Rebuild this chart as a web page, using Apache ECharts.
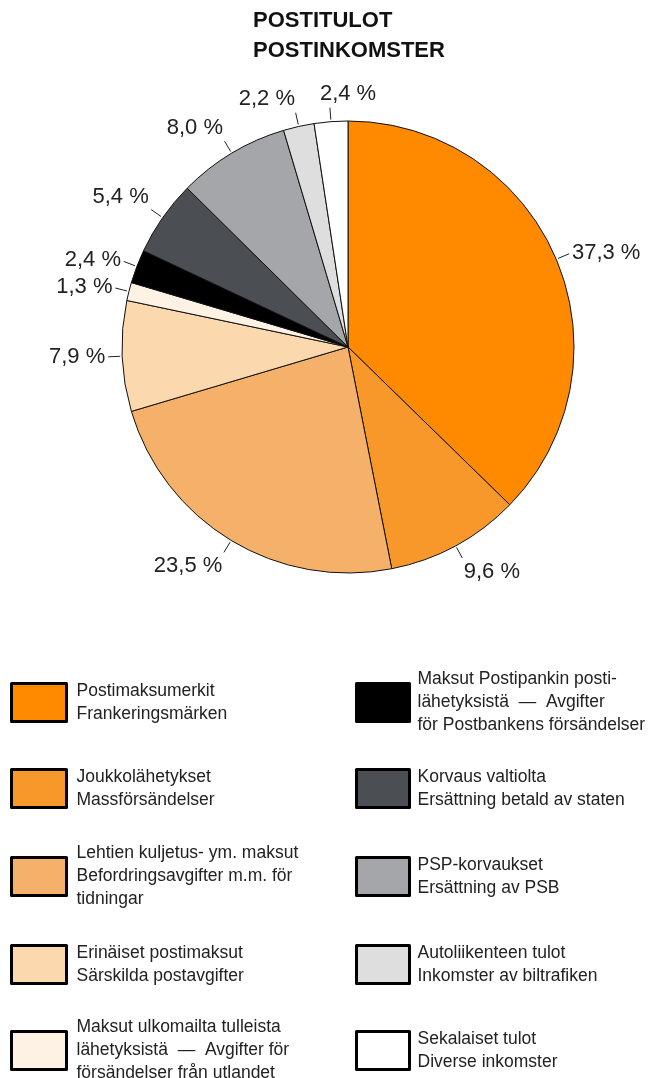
<!DOCTYPE html>
<html>
<head>
<meta charset="utf-8">
<script src="https://cdn.jsdelivr.net/npm/echarts@6/dist/echarts.min.js"></script>
<style>
  html, body { margin: 0; padding: 0; background: #fff; }
  #chart { width: 653px; height: 1078px; }
</style>
</head>
<body>
<div id="chart"></div>
<script>
// osuudet prosentteina, myötäpäivään ylhäältä
var names = ['Postimaksumerkit', 'Joukkolähetykset', 'Lehtien kuljetus', 'Erinäiset postimaksut',
  'Maksut ulkomailta', 'Maksut Postipankin', 'Korvaus valtiolta', 'PSP-korvaukset',
  'Autoliikenteen tulot', 'Sekalaiset tulot'];
var values = [37.3, 9.6, 23.5, 7.9, 1.3, 2.4, 5.4, 8.0, 2.2, 2.4];
var colors = ['#ff8a00', '#f8982a', '#f5b16a', '#fbd8ae', '#fdf2e4',
  '#000000', '#4b4e52', '#a4a6a9', '#dedede', '#ffffff'];
var legendTexts = [
  'Postimaksumerkit\nFrankeringsmärken',
  'Joukkolähetykset\nMassförsändelser',
  'Lehtien kuljetus- ym. maksut\nBefordringsavgifter m.m. för\ntidningar',
  'Erinäiset postimaksut\nSärskilda postavgifter',
  'Maksut ulkomailta tulleista\nlähetyksistä  —  Avgifter för\nförsändelser från utlandet',
  'Maksut Postipankin posti-\nlähetyksistä  —  Avgifter\nför Postbankens försändelser',
  'Korvaus valtiolta\nErsättning betald av staten',
  'PSP-korvaukset\nErsättning av PSB',
  'Autoliikenteen tulot\nInkomster av biltrafiken',
  'Sekalaiset tulot\nDiverse inkomster'
];

var chart = echarts.init(document.getElementById('chart'));
var font = 'Liberation Sans';
var pieCenter = [348, 347];

// selite: yksi legend per rivi, kaksi saraketta
var rowCenters = [700, 786, 874, 962, 1048];
var legends = [];
names.forEach(function (n, i) {
  var col = i < 5 ? 0 : 1;
  var row = i % 5;
  var lines = legendTexts[i].split('\n').length;
  var h = Math.max(38, lines * 23);
  legends.push({
    data: [n],
    left: col === 0 ? 10 : 355,
    top: rowCenters[row] - h / 2,
    padding: 0,
    orient: 'vertical',
    icon: 'rect',
    itemWidth: col === 0 ? 55 : 53,
    itemHeight: 38,
    selectedMode: false,
    itemStyle: { borderColor: '#000', borderWidth: 3 },
    formatter: function () { return legendTexts[i]; },
    textStyle: {
      fontFamily: font, fontSize: 17.5, lineHeight: 23, color: '#222',
      padding: [5, 0, 0, col === 0 ? 5 : 3]
    }
  });
});

var option = {
  backgroundColor: '#fff',
  animation: false,
  title: {
    text: 'POSTITULOT\nPOSTINKOMSTER',
    left: 253,
    top: 6,
    padding: 0,
    textStyle: { fontFamily: font, fontSize: 22, fontWeight: 'bold', lineHeight: 30, color: '#111' }
  },
  legend: legends,
  series: [{
    type: 'pie',
    center: pieCenter,
    radius: 226,
    startAngle: 90,
    clockwise: true,
    data: names.map(function (n, i) {
      return { name: n, value: values[i], itemStyle: { color: colors[i] } };
    }),
    itemStyle: { borderColor: '#111', borderWidth: 1 },
    label: {
      show: true,
      position: 'outside',
      fontFamily: font,
      fontSize: 22,
      color: '#222',
      formatter: function (p) { return p.value.toFixed(1).replace('.', ',') + ' %'; }
    },
    labelLine: {
      show: true, length: 12, length2: 0,
      lineStyle: { color: '#222', width: 1 }
    },
    // lyhyt säteittäinen viiva, teksti sen jatkeelle
    labelLayout: function (p) {
      var pts = p.labelLinePoints;
      if (!pts) return {};
      var dx = pts[0][0] - pieCenter[0], dy = pts[0][1] - pieCenter[1];
      var len = Math.sqrt(dx * dx + dy * dy) || 1;
      dx /= len; dy /= len;
      var start = [pts[0][0] + dx * 2, pts[0][1] + dy * 2];
      var end = [pts[0][0] + dx * 14, pts[0][1] + dy * 14];
      var x = pts[0][0] + dx * 17;
      var align = 'center';
      if (dx > 0.35) align = 'left';
      else if (dx < -0.15) align = 'right';
      else { align = 'left'; x = end[0] - 10; }
      return {
        x: x,
        y: pts[0][1] + dy * 17,
        align: align,
        verticalAlign: dy < -0.5 ? 'bottom' : (dy > 0.5 ? 'top' : 'middle'),
        labelLinePoints: [start, end, end]
      };
    }
  }]
};
chart.setOption(option);
</script>
</body>
</html>
